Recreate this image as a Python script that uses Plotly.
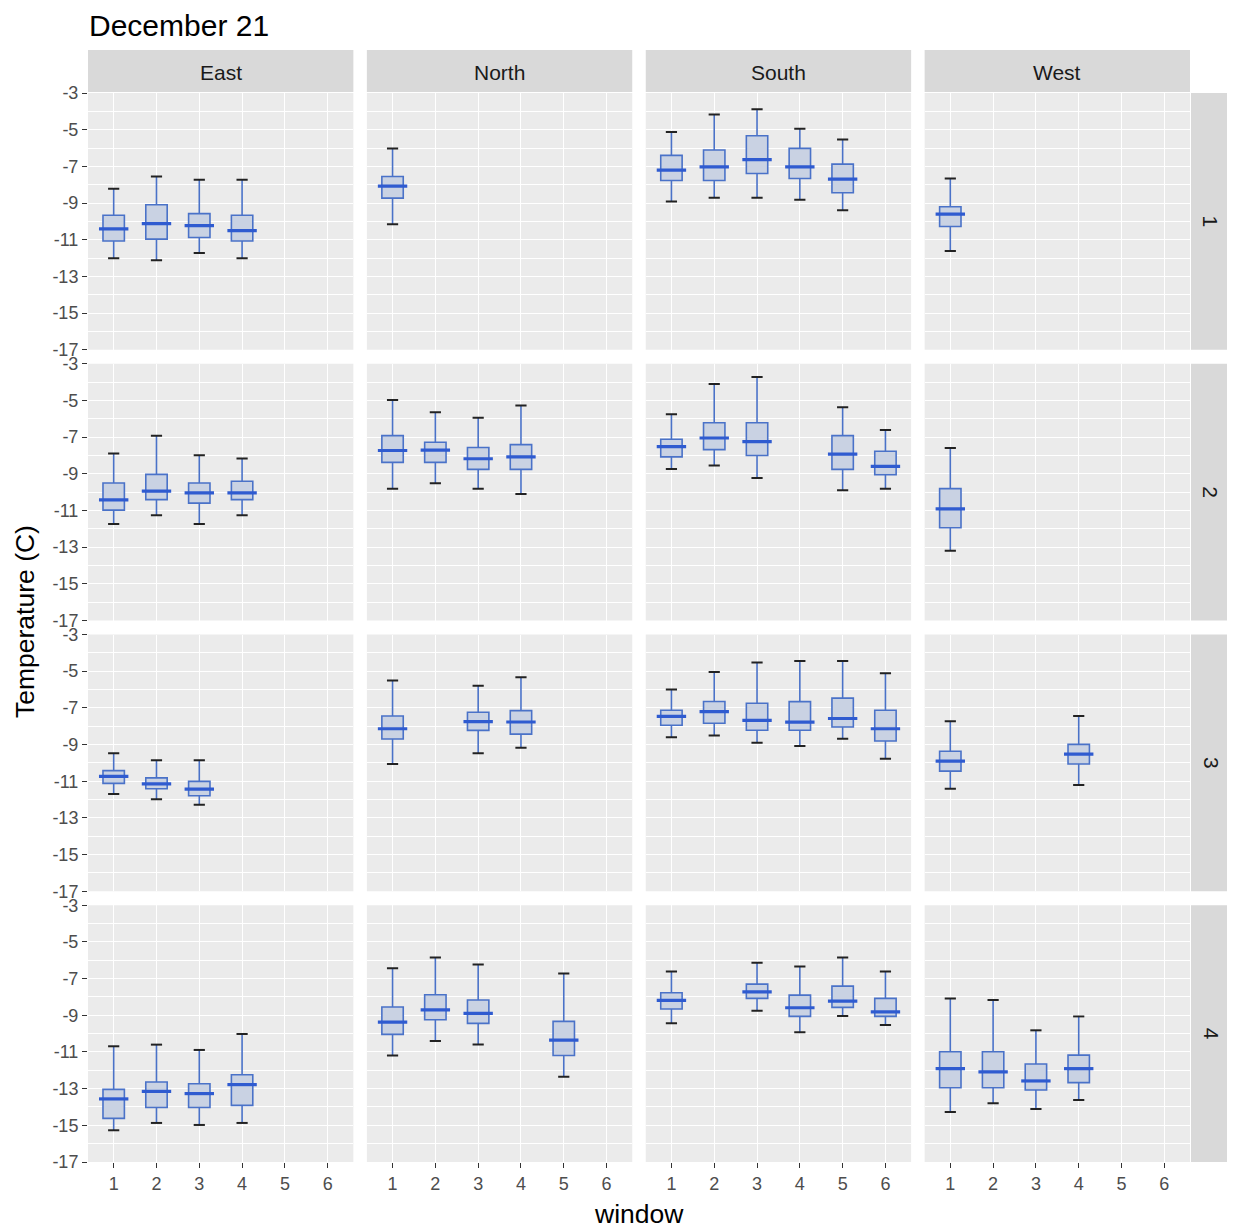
import plotly.graph_objects as go

W, H = 1235, 1229

directions = ["East", "North", "South", "West"]
row_labels = ["1", "2", "3", "4"]
window_ticks = [1, 2, 3, 4, 5, 6]
y_ticks = [-17, -15, -13, -11, -9, -7, -5, -3]
y_minor = [-16, -14, -12, -10, -8, -6, -4]

# one entry per box
box_dir = (["East"] * 4 + ["North"] + ["South"] * 5 + ["West"]
           + ["East"] * 4 + ["North"] * 4 + ["South"] * 5 + ["West"]
           + ["East"] * 3 + ["North"] * 3 + ["South"] * 6 + ["West"] * 2
           + ["East"] * 4 + ["North"] * 4 + ["South"] * 5 + ["West"] * 4)
box_row = (["1"] * 11 + ["2"] * 14 + ["3"] * 14 + ["4"] * 17)
box_window = [1, 2, 3, 4, 1, 1, 2, 3, 4, 5, 1,
              1, 2, 3, 4, 1, 2, 3, 4, 1, 2, 3, 5, 6, 1,
              1, 2, 3, 1, 3, 4, 1, 2, 3, 4, 5, 6, 1, 4,
              1, 2, 3, 4, 1, 2, 3, 5, 1, 3, 4, 5, 6, 1, 2, 3, 4]
box_low = [-12.01, -12.12, -11.72, -12.01, -10.15, -8.91, -8.71, -8.71, -8.82, -9.39, -11.62,
           -11.74, -11.26, -11.74, -11.26, -9.81, -9.52, -9.81, -10.10, -8.74, -8.55, -9.23, -9.90, -9.81, -13.19,
           -11.70, -11.99, -12.28, -10.06, -9.48, -9.17, -8.60, -8.51, -8.90, -9.08, -8.69, -9.77, -11.41, -11.21,
           -15.27, -14.87, -14.98, -14.87, -11.19, -10.40, -10.59, -12.35, -9.44, -8.75, -9.93, -9.04, -9.53,
           -14.27, -13.80, -14.11, -13.62]
box_q1 = [-11.07, -10.97, -10.88, -11.07, -8.73, -7.77, -7.77, -7.39, -7.66, -8.44, -10.28,
          -10.98, -10.41, -10.60, -10.41, -8.38, -8.38, -8.76, -8.76, -8.08, -7.68, -8.00, -8.76, -9.05, -11.94,
          -11.12, -11.41, -11.79, -8.70, -8.23, -8.43, -7.95, -7.84, -8.22, -8.22, -8.04, -8.81, -10.45, -10.06,
          -14.62, -14.03, -14.03, -13.91, -10.04, -9.24, -9.44, -11.19, -8.66, -8.08, -9.06, -8.57, -9.06,
          -12.95, -12.95, -13.07, -12.67]
box_med = [-10.41, -10.12, -10.23, -10.50, -8.08, -7.21, -7.03, -6.63, -7.03, -7.70, -9.61,
           -10.42, -9.95, -10.04, -10.04, -7.73, -7.71, -8.18, -8.08, -7.52, -7.05, -7.25, -7.93, -8.60, -10.91,
           -10.74, -11.14, -11.43, -8.14, -7.75, -7.77, -7.46, -7.21, -7.68, -7.78, -7.58, -8.14, -9.90, -9.52,
           -13.56, -13.15, -13.27, -12.78, -9.37, -8.70, -8.90, -10.35, -8.19, -7.72, -8.59, -8.23, -8.81,
           -11.91, -12.09, -12.58, -11.91]
box_q3 = [-9.67, -9.09, -9.58, -9.67, -7.55, -6.40, -6.11, -5.33, -6.02, -6.88, -9.20,
          -9.50, -9.03, -9.50, -9.41, -6.92, -7.28, -7.57, -7.41, -7.12, -6.22, -6.22, -6.92, -7.77, -9.81,
          -10.42, -10.82, -11.01, -7.44, -7.24, -7.15, -7.13, -6.65, -6.75, -6.66, -6.47, -7.13, -9.37, -8.99,
          -13.04, -12.64, -12.73, -12.24, -8.55, -7.88, -8.17, -9.33, -7.77, -7.30, -7.90, -7.41, -8.08,
          -10.99, -10.99, -11.66, -11.17]
box_high = [-8.22, -7.55, -7.73, -7.73, -6.02, -5.13, -4.17, -3.89, -4.95, -5.53, -7.66,
            -7.90, -6.92, -7.99, -8.17, -4.97, -5.64, -5.94, -5.28, -5.76, -4.10, -3.72, -5.37, -6.61, -7.59,
            -9.48, -9.86, -9.86, -5.51, -5.80, -5.33, -6.00, -5.04, -4.53, -4.44, -4.44, -5.11, -7.73, -7.44,
            -10.69, -10.60, -10.89, -10.02, -6.43, -5.85, -6.23, -6.72, -6.61, -6.14, -6.34, -5.85, -6.61,
            -8.08, -8.17, -9.82, -9.06]

title_text = "December 21"
x_title = "window"
y_title = "Temperature (C)"

# ---- styling / layout geometry ----
FONT = "Liberation Sans, Arial, sans-serif"
BOX_FILL = "#C9D2E3"
BOX_LINE = "#4A72C8"
MEDIAN = "#2F5BD0"
CAP = "#222222"

# screen-pixel -> paper fraction (page body margin shifts the figure by 8px)
OFF_X = 8.0
OFF_Y = 8.0


def px(x):
    return (x - OFF_X) / W


def py(y):
    return 1 - (y - OFF_Y) / H


left0, right0 = 88, 1190
top0, bottom0 = 93, 1162
gap_x, gap_y = 13.5, 14
pw = (right0 - left0 - 3 * gap_x) / 4
ph = (bottom0 - top0 - 3 * gap_y) / 4

fig = go.Figure()
layout = dict(
    width=W, height=H, autosize=False,
    margin=dict(l=0, r=0, t=0, b=0, autoexpand=False),
    paper_bgcolor="white", plot_bgcolor="#EBEBEB",
    showlegend=False,
    font=dict(family=FONT),
)
shapes = []
annotations = []
TICKFONT = dict(size=18, color="#4D4D4D", family=FONT)

for ri, rl in enumerate(row_labels):
    for ci, d in enumerate(directions):
        k = ri * 4 + ci + 1
        xa = "x" if k == 1 else f"x{k}"
        ya = "y" if k == 1 else f"y{k}"
        xl = left0 + ci * (pw + gap_x)
        xr = xl + pw
        yt = top0 + ri * (ph + gap_y)
        yb = yt + ph
        layout["xaxis" if k == 1 else f"xaxis{k}"] = dict(
            domain=[px(xl), px(xr)], anchor=ya, range=[0.4, 6.6],
            tickvals=window_ticks, ticktext=[str(t) for t in window_ticks],
            showticklabels=(ri == 3), ticks="outside" if ri == 3 else "",
            ticklen=5, tickwidth=1.2, tickcolor="#333333", tickfont=TICKFONT,
            showgrid=True, gridcolor="white", gridwidth=1.4,
            zeroline=False, showline=False, fixedrange=True,
        )
        layout["yaxis" if k == 1 else f"yaxis{k}"] = dict(
            domain=[py(yb), py(yt)], anchor=xa, range=[-17, -3],
            tickvals=y_ticks, ticktext=[str(t) for t in y_ticks],
            showticklabels=(ci == 0), ticks="outside" if ci == 0 else "",
            ticklen=5, tickwidth=1.2, tickcolor="#333333", tickfont=TICKFONT,
            showgrid=True, gridcolor="white", gridwidth=1.4,
            minor=dict(tickvals=y_minor, showgrid=True, gridcolor="white",
                       gridwidth=0.6, ticks=""),
            zeroline=False, showline=False, fixedrange=True,
        )

        idx = [i for i in range(len(box_dir)) if box_dir[i] == d and box_row[i] == rl]
        if idx:
            xs = [box_window[i] for i in idx]
            fig.add_trace(go.Box(
                x=xs,
                q1=[box_q1[i] for i in idx],
                median=[box_med[i] for i in idx],
                q3=[box_q3[i] for i in idx],
                lowerfence=[box_low[i] for i in idx],
                upperfence=[box_high[i] for i in idx],
                width=0.5, whiskerwidth=0, boxpoints=False,
                fillcolor=BOX_FILL, line=dict(color=BOX_LINE, width=1.6),
                xaxis=xa, yaxis=ya, hoverinfo="skip",
            ))
            fig.add_trace(go.Scatter(
                x=xs, y=[box_med[i] for i in idx], mode="markers",
                marker=dict(symbol="line-ew", size=21,
                            line=dict(color=MEDIAN, width=3.2)),
                xaxis=xa, yaxis=ya, hoverinfo="skip",
            ))
            fig.add_trace(go.Scatter(
                x=xs + xs,
                y=[box_low[i] for i in idx] + [box_high[i] for i in idx],
                mode="markers",
                marker=dict(symbol="line-ew", size=8,
                            line=dict(color=CAP, width=2)),
                xaxis=xa, yaxis=ya, hoverinfo="skip",
            ))

        if ri == 0:
            shapes.append(dict(type="rect", xref="paper", yref="paper",
                               x0=px(xl), x1=px(xr), y0=py(92), y1=py(50),
                               fillcolor="#D9D9D9", line=dict(width=0), layer="below"))
            annotations.append(dict(text=d, xref="paper", yref="paper",
                                    x=px((xl + xr) / 2), y=py(72),
                                    xanchor="center", yanchor="middle", showarrow=False,
                                    font=dict(size=21, color="#1A1A1A", family=FONT)))
    yt = top0 + ri * (ph + gap_y)
    yb = yt + ph
    shapes.append(dict(type="rect", xref="paper", yref="paper",
                       x0=px(1191), x1=px(1231), y0=py(yb), y1=py(yt),
                       fillcolor="#D9D9D9", line=dict(width=0), layer="below"))
    annotations.append(dict(text=rl, xref="paper", yref="paper",
                            x=px(1211), y=py((yt + yb) / 2), textangle=90,
                            xanchor="center", yanchor="middle", showarrow=False,
                            font=dict(size=21, color="#1A1A1A", family=FONT)))

annotations.append(dict(text=title_text, xref="paper", yref="paper",
                        x=px(87), y=py(25), xanchor="left", yanchor="middle",
                        showarrow=False, font=dict(size=30, color="black", family=FONT)))
annotations.append(dict(text=x_title, xref="paper", yref="paper",
                        x=px((left0 + right0) / 2), y=py(1214),
                        xanchor="center", yanchor="middle", showarrow=False,
                        font=dict(size=26.5, color="black", family=FONT)))
annotations.append(dict(text=y_title, xref="paper", yref="paper",
                        x=px(25), y=py(622), textangle=-90,
                        xanchor="center", yanchor="middle", showarrow=False,
                        font=dict(size=26.5, color="black", family=FONT)))

layout["shapes"] = shapes
layout["annotations"] = annotations
fig.update_layout(**layout)
fig.write_html("out.html")
